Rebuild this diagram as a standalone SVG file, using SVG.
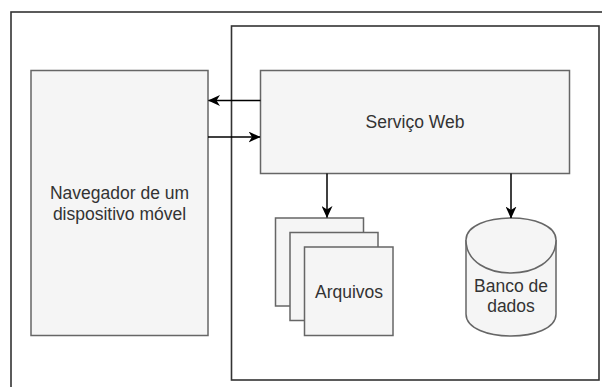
<svg xmlns="http://www.w3.org/2000/svg" width="602" height="387" viewBox="0 0 602 387">
  <defs>
    <style>
      .frame { fill: none; stroke: #333333; stroke-width: 1.6; }
      .box { fill: #f5f5f5; stroke: #666666; stroke-width: 1.5; }
      .label { font-family: "Liberation Sans", Arial, sans-serif; font-size: 17.5px; fill: #333333; text-anchor: middle; }
      .edge { fill: none; stroke: #000000; stroke-width: 1.5; marker-end: url(#classic); }
    </style>
    <marker id="classic" viewBox="0 0 12 11" markerUnits="userSpaceOnUse" markerWidth="12" markerHeight="11" refX="11.5" refY="5.5" orient="auto">
      <path d="M12,5.5 L0,0 L3.5,5.5 L0,11 Z" fill="#000000"/>
    </marker>
  </defs>

  <rect width="602" height="387" fill="#ffffff"/>

  <!-- outer page border and server boundary -->
  <rect class="frame" x="11" y="12" width="620" height="400"/>
  <rect class="frame" x="231.5" y="26" width="367.5" height="354"/>

  <g id="navegador">
    <rect class="box" x="31" y="70.5" width="177" height="265"/>
    <text class="label" x="119.5" y="199">Navegador de um</text>
    <text class="label" x="119.5" y="219.5">dispositivo móvel</text>
  </g>

  <g id="servico-web">
    <rect class="box" x="260.5" y="70.5" width="309" height="103"/>
    <text class="label" x="415" y="128.3">Serviço Web</text>
  </g>

  <g id="arquivos">
    <rect class="box" x="275.5" y="218" width="88" height="88"/>
    <rect class="box" x="290" y="232.5" width="88" height="88"/>
    <rect class="box" x="304.5" y="247" width="88.5" height="88.5"/>
    <text class="label" x="349" y="298">Arquivos</text>
  </g>

  <g id="banco-de-dados">
    <path class="box" d="M466,240 C466,210.7 556,210.7 556,240 L556,314 C556,343.3 466,343.3 466,314 Z"/>
    <path class="box" fill="none" d="M466,240 C466,284 556,284 556,240"/>
    <text class="label" x="511" y="291.7">Banco de</text>
    <text class="label" x="511" y="311.7">dados</text>
  </g>

  <g id="connectors">
    <path class="edge" d="M260.5,100.5 L208.5,100.5"/>
    <path class="edge" d="M208,137 L260,137"/>
    <path class="edge" d="M327,173.5 L327,217.5"/>
    <path class="edge" d="M511,173.5 L511,218"/>
  </g>
</svg>
